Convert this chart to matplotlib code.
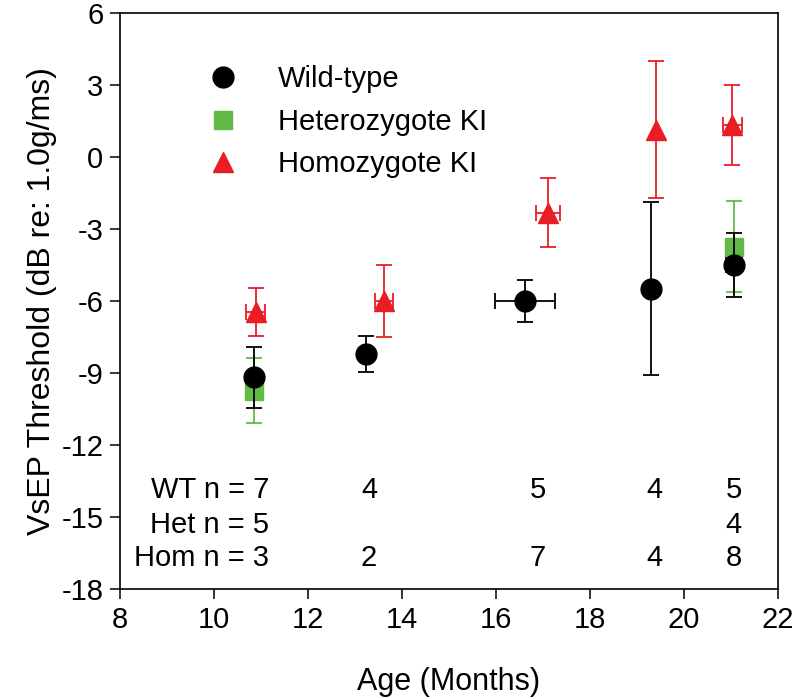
import matplotlib.pyplot as plt
from matplotlib.lines import Line2D

plt.rcParams['font.family'] = ['Liberation Sans', 'DejaVu Sans']
plt.rcParams['axes.unicode_minus'] = False

# Wild-type
wt_age = [10.85, 13.23, 16.63, 19.30, 21.07]
wt_mean = [-9.18, -8.22, -6.00, -5.48, -4.48]
wt_err = [1.28, 0.75, 0.87, 3.61, 1.34]
wt_xerr = [0.0, 0.0, 0.64, 0.0, 0.18]

# Heterozygote KI
het_age = [10.85, 21.06]
het_mean = [-9.73, -3.72]
het_err = [1.36, 1.90]

# Homozygote KI
hom_age = [10.89, 13.62, 17.11, 19.40, 21.03]
hom_mean = [-6.45, -5.98, -2.30, 1.15, 1.35]
hom_err = [1.00, 1.50, 1.42, 2.85, 1.67]
hom_xerr = [0.2, 0.2, 0.25, 0.0, 0.2]

# sample sizes
n_rows = ["WT n = 7", "Het n = 5", "Hom n = 3"]
n_cols_x = [13.3, 16.9, 19.38, 21.06]
wt_n = ["4", "5", "4", "5"]
het_n = ["", "", "", "4"]
hom_n = ["2", "7", "4", "8"]

black = "black"
green = "#62bb46"
red = "#ea1d25"

fig = plt.figure(figsize=(7.94, 6.99), dpi=100)
ax = fig.add_axes([0.1511, 0.1574, 0.8284, 0.8233])

ax.errorbar(het_age, het_mean, yerr=het_err, fmt="s", color=green, ms=13,
            capsize=5.8, elinewidth=1.3, capthick=1.3, zorder=2)
ax.errorbar(wt_age, wt_mean, yerr=wt_err, xerr=wt_xerr, fmt="o", color=black,
            ms=15, capsize=5.8, elinewidth=1.3, capthick=1.3, zorder=3)
ax.errorbar(hom_age, hom_mean, yerr=hom_err, xerr=hom_xerr, fmt="^", color=red,
            ms=14, capsize=5.8, elinewidth=1.3, capthick=1.3, zorder=4)

fs = 21
row_y = [-13.87, -15.33, -16.70]
for label, y in zip(n_rows, row_y):
    ax.text(11.17, y, label, ha="right", va="center", fontsize=fs)
for row, y in zip([wt_n, het_n, hom_n], row_y):
    for x, s in zip(n_cols_x, row):
        ax.text(x, y, s, ha="center", va="center", fontsize=fs)

handles = [
    Line2D([], [], marker="o", color=black, ls="none", ms=15),
    Line2D([], [], marker="s", color=green, ls="none", ms=13),
    Line2D([], [], marker="^", color=red, ls="none", ms=14),
]
ax.legend(handles, ["Wild-type", "Heterozygote KI", "Homozygote KI"],
          loc="upper left", bbox_to_anchor=(0.1346, 0.91), frameon=False,
          fontsize=fs, handlelength=1.0, handletextpad=1.38, labelspacing=0.5,
          borderpad=0, borderaxespad=0)

ax.set_xlim(8, 22)
ax.set_ylim(-18, 6)
ax.set_xticks(range(8, 23, 2))
ax.set_yticks(range(-18, 7, 3))
ax.tick_params(direction="out", length=7, width=1.1, labelsize=fs, pad=5)
ax.tick_params(top=False, right=False)
for s in ax.spines.values():
    s.set_linewidth(1.2)

ax.set_xlabel("Age (Months)", fontsize=22, labelpad=24)
ax.set_ylabel("VsEP Threshold (dB re: 1.0g/ms)", fontsize=23, labelpad=3)

fig.savefig("out.png", dpi=100)
